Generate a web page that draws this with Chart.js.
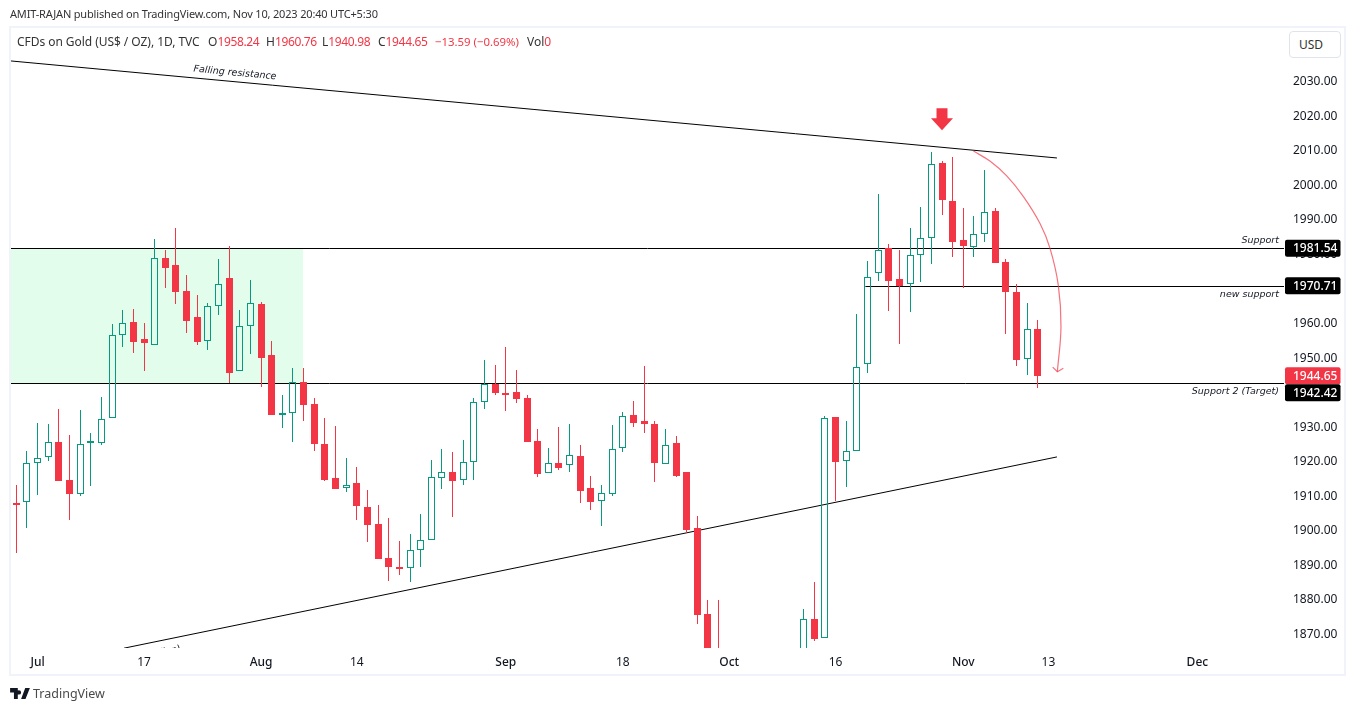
<!DOCTYPE html>
<html><head><meta charset="utf-8">
<style>
html,body{margin:0;padding:0;background:#fff;width:1355px;height:711px;overflow:hidden;font-family:"Noto Sans",sans-serif;color:#131722}
canvas{position:absolute;left:0;top:0}
#frame{position:absolute;left:9px;top:26px;width:1333px;height:646px;border:2px solid #f0f3fa}
.t{position:absolute;white-space:pre;font-size:12px;line-height:16px}
#pub{left:10px;top:6px;color:#333;font-size:11px;letter-spacing:-0.17px}
.l{position:absolute;top:34px;color:#333;font-size:12px;line-height:16px;white-space:pre}
.l b{font-weight:400;color:#f23645;letter-spacing:-0.35px}
#usd{position:absolute;left:1289px;top:31px;width:50px;height:25px;border:1px solid #e0e3eb;border-radius:4px;font-size:12px;line-height:25px;padding-left:0;text-indent:9px;color:#333;background:#fff}
#tv{left:33px;top:685px;font-size:12.5px;line-height:18px;color:#4a4a4a}
#logo{position:absolute;left:10px;top:688px}
</style></head><body>
<div id="frame"></div>
<canvas id="c" width="1355" height="711" style="width:1355px;height:711px"></canvas>
<div class="t" id="pub">AMIT-RAJAN published on TradingView.com, Nov 10, 2023 20:40 UTC+5:30</div>
<div class="l" style="left:17px;letter-spacing:-0.05px">CFDs on Gold (US$ / OZ), 1D, TVC</div>
<div class="l" style="left:208px">O<b>1958.24</b></div>
<div class="l" style="left:266px">H<b>1960.76</b></div>
<div class="l" style="left:322px">L<b>1940.98</b></div>
<div class="l" style="left:378px">C<b>1944.65</b></div>
<div class="l" style="left:435px;color:#f23645;font-size:11.4px">−13.59 (−0.69%)</div>
<div class="l" style="left:527px">Vol<b>0</b></div>
<div id="usd">USD</div>
<svg id="logo" width="20" height="11" viewBox="0 0 36 20"><path fill="#131722" d="M14 20H7V8H0V0h14zM28 20h-8L27.5 0H36zM20 8a4 4 0 1 1-8 0 4 4 0 0 1 8 0z"/></svg>
<div class="t" id="tv">TradingView</div>
<script src="https://cdn.jsdelivr.net/npm/chart.js@4/dist/chart.umd.min.js"></script>
<script>
const opens=[1907.8,1907.9,1919.2,1921.0,1925.3,1914.3,1910.5,1925.0,1925.0,1932.3,1956.3,1960.2,1955.3,1953.4,1978.7,1976.7,1969.2,1961.6,1954.6,1964.7,1972.9,1945.9,1958.9,1965.4,1950.6,1933.3,1933.7,1942.7,1936.4,1924.8,1915.0,1912.0,1913.5,1906.6,1901.7,1891.8,1888.9,1889.0,1894.0,1896.9,1914.9,1916.7,1914.3,1919.5,1936.9,1942.2,1939.6,1939.9,1938.2,1925.7,1916.3,1919.3,1918.7,1921.4,1912.1,1908.2,1910.5,1923.6,1933.2,1931.5,1930.6,1919.0,1925.1,1916.7,1900.5,1875.6,1864,1848,1828,1822,1821,1820,1832,1861,1860,1874.2,1868.6,1932.7,1919.8,1922.7,1947.9,1974.3,1981.5,1972.6,1971.1,1979.5,1984.4,2006.3,1995.1,1983.9,1982.0,1985.6,1992.3,1977.5,1968.9,1949.4,1958.24];
const highs=[1913.0,1922.8,1930.9,1930.6,1935.0,1927.5,1934.7,1928.0,1938.5,1959.6,1963.7,1964.0,1959.9,1984.2,1981.0,1987.4,1973.8,1968.0,1965.7,1978.4,1982.2,1963.7,1972.3,1966.0,1954.7,1939.0,1946.9,1946.9,1938.2,1932.4,1930.1,1920.8,1918.2,1911.5,1907.2,1903.4,1896.7,1898.8,1904.6,1920.2,1923.4,1922.5,1926.0,1938.2,1949.2,1947.7,1952.9,1946.3,1939.0,1929.2,1923.7,1929.8,1930.6,1924.6,1915.6,1913.0,1930.4,1934.1,1937.3,1947.4,1931.5,1929.2,1927.2,1916.7,1904.0,1879.7,1879.7,1850,1832,1828,1826,1836,1863,1865,1877.0,1884.9,1933.0,1932.7,1931.5,1962.5,1977.9,1997.3,1982.8,1981.1,1987.4,1993.5,2009.4,2006.8,2008.0,1993.2,1990.9,2004.2,1993.2,1978.4,1971.2,1965.7,1960.76];
const lows=[1893.3,1900.6,1910.2,1920.0,1914.2,1902.9,1909.9,1912.8,1924.6,1932.3,1952.8,1951.2,1946.0,1953.4,1970.1,1965.5,1957.0,1953.5,1952.2,1962.2,1942.4,1945.9,1950.9,1941.5,1933.1,1929.5,1925.4,1931.5,1922.8,1914.1,1911.9,1910.9,1902.8,1896.5,1891.6,1885.2,1886.9,1884.9,1889.2,1896.9,1911.8,1903.7,1913.0,1914.4,1935.0,1939.0,1934.4,1936.7,1925.4,1915.3,1916.3,1917.3,1916.7,1907.8,1905.7,1901.1,1909.8,1922.5,1929.8,1928.0,1913.8,1919.0,1915.3,1899.0,1872.7,1858,1858,1820,1815,1815,1813,1810,1820,1855,1858,1867.8,1868.6,1908.3,1912.4,1922.7,1945.5,1972.2,1963.5,1953.9,1963.2,1971.9,1977.1,1991.2,1979.0,1969.9,1979.0,1983.4,1977.4,1956.7,1947.5,1944.8,1940.98];
const closes=[1907.3,1919.2,1920.7,1925.3,1914.2,1910.5,1924.7,1925.3,1932.0,1956.3,1959.8,1954.5,1954.1,1978.6,1975.9,1969.0,1960.6,1954.5,1964.7,1971.1,1945.5,1958.9,1965.6,1949.9,1933.3,1933.7,1942.7,1936.2,1924.7,1914.4,1911.9,1912.9,1907.0,1901.5,1891.6,1889.3,1888.6,1894.0,1896.9,1915.2,1916.6,1914.1,1919.5,1936.9,1942.1,1939.7,1939.1,1937.9,1925.4,1916.2,1919.2,1917.9,1921.6,1911.2,1908.0,1910.6,1923.3,1932.9,1931.0,1930.5,1919.4,1924.5,1915.6,1900.0,1875.3,1862,1848,1828,1822,1821,1820,1832,1861,1860,1874.1,1868.4,1932.3,1919.6,1922.7,1947.1,1973.1,1981.0,1972.2,1970.6,1979.5,1984.4,2005.9,1995.6,1983.5,1982.3,1985.6,1992.0,1977.4,1969.0,1949.3,1958.1,1944.65];
const xTickValues=[2,12,23,32,46,57,67,77,89,97,111];
const xTickLabels=['Jul','17','Aug','14','Sep','18','Oct','16','Nov','13','Dec'];
const monthTicks=['Jul','Aug','Sep','Oct','Nov','Dec'];
const yTickValues=[1870,1880,1890,1900,1910,1920,1930,1940,1950,1960,1970,1980,1990,2000,2010,2020,2030];
const supportLevel=1981.54, newSupportLevel=1970.71, targetLevel=1942.42, lastClose=1944.65;
const fallingLine=[[-0.5,2035.8],[97.8,2007.7]];
const risingLine=[[10.12,1865.7],[97.8,1921.1]];
const zoneRange=[-0.5,26.95];
const newSupportStart=79.8;
const curve=[[89.95,2009.7],[91.5,2006.8],[93.08,2002.5],[94.65,1996.5],[96.21,1988.7],[97.15,1981.5],[97.93,1970.8],[98.18,1958.8],[97.84,1945.8]];
const curveHead=[[97.4,1947.1],[97.84,1945.8],[98.4,1946.8]];
const arrowAt=[87,2016];

const GREEN='#089981',RED='#f23645',FONT='"Noto Sans",sans-serif';
const pts=a=>a.map(p=>({x:p[0],y:p[1]}));
const hline=(v,from,to)=>({type:'line',crisp:true,order:10,data:pts([[from,v],[to,v]]),borderColor:'#000',borderWidth:1,pointRadius:0,tension:0});
const idx=opens.map((_,i)=>i);
const up=idx.map(i=>closes[i]>=opens[i]);
const XMAX=119.14;
const bar=(data,extra)=>Object.assign({type:'bar',data,barThickness:1,borderWidth:0,borderSkipped:false,inflateAmount:0,backgroundColor:idx.map(i=>up[i]?GREEN:RED),order:2,grouped:false},extra);

const crispPlugin={id:'crisp',afterDatasetsUpdate(ch){
  ch.data.datasets.forEach((d,k)=>{const m=ch.getDatasetMeta(k);
    if(d.type==='bar'){m.data.forEach(el=>{el.x=Math.round(el.x-0.5)+0.5;el.y=Math.round(el.y);el.base=Math.round(el.base);});}
    if(d.crisp){m.data.forEach(el=>{el.y=Math.round(el.y)+0.5;});}
  });
}};
const overlay={id:'overlay',afterDraw(ch){
  const c=ch.ctx,X=ch.scales.x,Y=ch.scales.y,A=ch.chartArea;
  const ax=Math.round(X.getPixelForValue(arrowAt[0])),ay=Y.getPixelForValue(arrowAt[1]);
  c.save();c.fillStyle=RED;c.beginPath();
  c.moveTo(ax-5.5,ay-21);c.lineTo(ax+5.5,ay-21);c.lineTo(ax+5.5,ay-11);c.lineTo(ax+11,ay-11);c.lineTo(ax,ay+1);c.lineTo(ax-11,ay-11);c.lineTo(ax-5.5,ay-11);c.closePath();c.fill();c.restore();
  c.save();c.fillStyle='#131722';c.font='italic 9.5px "DejaVu Sans",sans-serif';c.textBaseline='middle';
  c.textAlign='right';
  c.fillText('Support',A.right-5,241);
  c.fillText('new support',A.right-5,295);
  c.fillText('Support 2 (Target)',A.right-5,392);
  c.textAlign='center';
  c.save();c.translate(235,73);c.rotate(Math.atan2(97,1046));c.fillText('Falling resistance',0,0);c.restore();
  c.beginPath();c.rect(A.left,A.top,A.right-A.left,A.bottom-A.top);c.clip();
  c.save();c.translate(170,651);c.rotate(-Math.atan2(191,933));c.fillText('(ion)',0,0);c.restore();
  c.restore();
  const box=(label,yc,bg)=>{c.fillStyle=bg;c.beginPath();c.roundRect(A.right+1,yc-8.5,55.5,17,2);c.fill();
    c.fillStyle='#fff';c.font='500 12px '+FONT;c.textAlign='left';c.textBaseline='middle';c.fillText(label,A.right+9,yc+0.5);};
  c.save();
  box(supportLevel.toFixed(2),Y.getPixelForValue(supportLevel),'#000');
  box(newSupportLevel.toFixed(2),Y.getPixelForValue(newSupportLevel),'#000');
  box(lastClose.toFixed(2),Y.getPixelForValue(lastClose),RED);
  box(targetLevel.toFixed(2),Y.getPixelForValue(lastClose)+17,'#000');
  c.restore();
}};

Chart.defaults.animation=false;
new Chart(document.getElementById('c'),{
  type:'bar',
  data:{datasets:[
    bar(idx.map(i=>({x:i,y:[Math.max(opens[i],closes[i]),highs[i]]}))),
    bar(idx.map(i=>({x:i,y:[lows[i],Math.min(opens[i],closes[i])]}))),
    bar(idx.map(i=>({x:i,y:[Math.min(opens[i],closes[i]),Math.max(opens[i],closes[i])]})),
      {barThickness:7,borderWidth:1,minBarLength:2,order:1,borderColor:idx.map(i=>up[i]?GREEN:RED),backgroundColor:idx.map(i=>up[i]?'rgba(0,0,0,0)':RED)}),
    {type:'line',order:20,data:pts([[zoneRange[0],supportLevel],[zoneRange[1],supportLevel]]),borderWidth:0,borderColor:'rgba(0,0,0,0)',pointRadius:0,tension:0,fill:{target:{value:targetLevel}},backgroundColor:'#e3fdec'},
    hline(supportLevel,-0.5,XMAX),hline(newSupportLevel,newSupportStart,XMAX),hline(targetLevel,-0.5,XMAX),
    {type:'line',order:10,data:pts(fallingLine),borderColor:'#000',borderWidth:1,pointRadius:0,tension:0},
    {type:'line',order:10,data:pts(risingLine),borderColor:'#000',borderWidth:1,pointRadius:0,tension:0},
    {type:'line',order:5,data:pts(curve),borderColor:'rgba(242,54,69,0.7)',borderWidth:1.2,pointRadius:0,tension:0.4},
    {type:'line',order:5,data:pts(curveHead),borderColor:'rgba(242,54,69,0.7)',borderWidth:1.2,pointRadius:0,tension:0},
  ]},
  options:{
    responsive:false,devicePixelRatio:1,animation:false,
    layout:{padding:{left:11,top:29,right:0,bottom:0}},
    plugins:{legend:{display:false},tooltip:{enabled:false},title:{display:false}},
    scales:{
      x:{type:'linear',offset:false,min:-0.5,max:XMAX,position:'bottom',
        grid:{display:false,drawTicks:false},border:{display:false},
        afterBuildTicks(s){s.ticks=xTickValues.map(v=>({value:v}));},
        afterFit(s){s.height=63;},
        ticks:{autoSkip:false,maxRotation:0,padding:7,color:'#131722',
          font:c=>({family:FONT,size:12,weight:monthTicks.includes(xTickLabels[xTickValues.indexOf(c.tick&&c.tick.value)])?'500':'400'}),
          callback:v=>xTickLabels[xTickValues.indexOf(v)]}},
      y:{type:'linear',position:'right',min:1865.75,max:2045.06,
        grid:{display:false,drawTicks:false},border:{display:false},
        afterBuildTicks(s){s.ticks=yTickValues.map(v=>({value:v}));},
        afterFit(s){s.width=71;},
        ticks:{autoSkip:false,padding:9,labelOffset:1,color:'#131722',font:{family:FONT,size:12},callback:v=>Number(v).toFixed(2)}}
    }
  },
  plugins:[crispPlugin,overlay]
});
</script>
</body></html>
